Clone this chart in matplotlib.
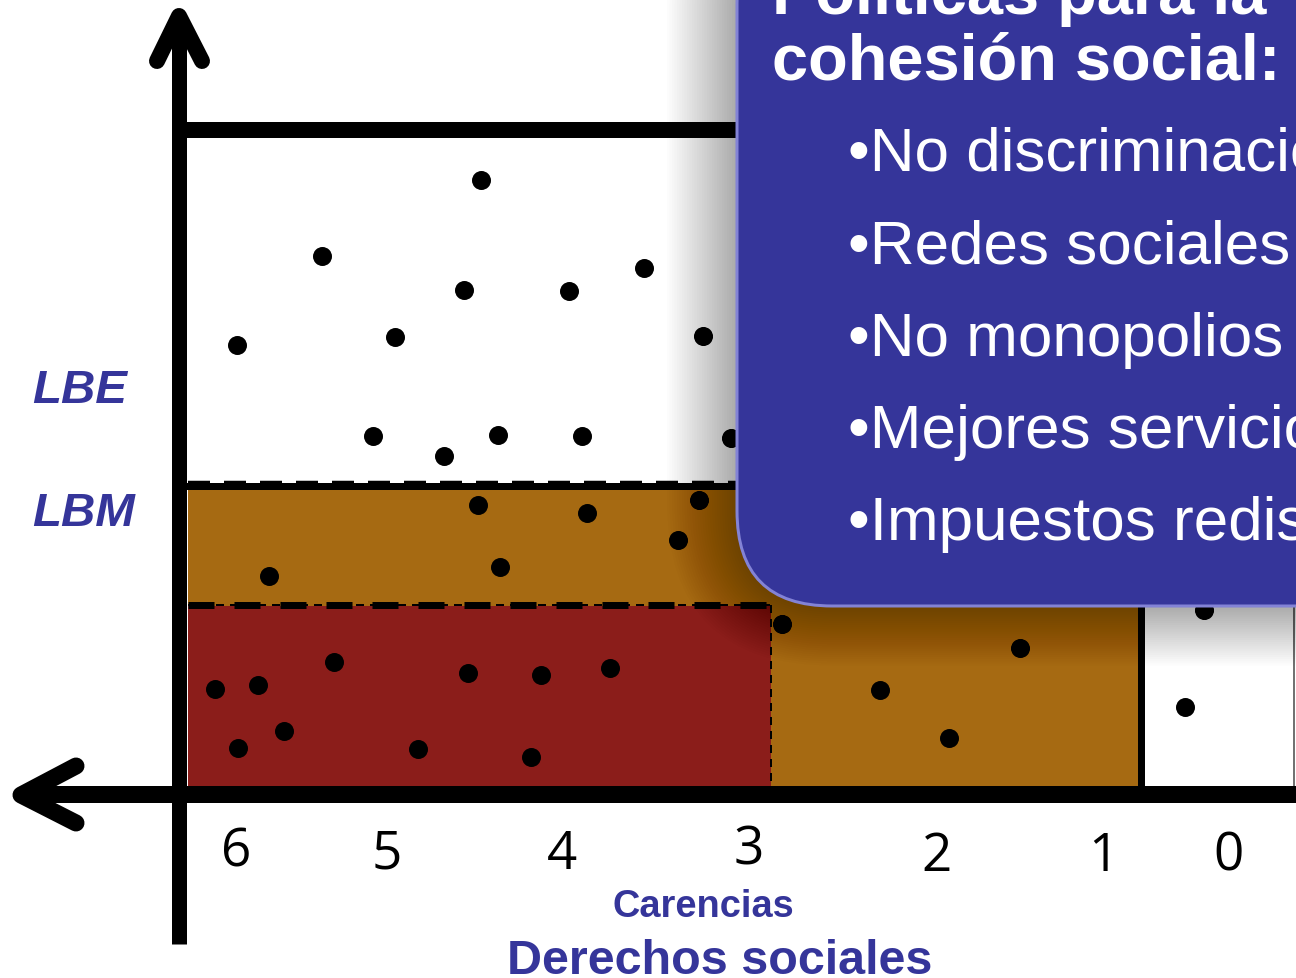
import matplotlib
matplotlib.use("Agg")
import matplotlib.pyplot as plt
from matplotlib.patches import Rectangle, FancyBboxPatch

# ---------------- data (diagram coordinates) ----------------
# x axis: number of "carencias" (deprivations), labels read left->right
carencias_labels = ["6", "5", "4", "3", "2", "1", "0"]
carencias_x = [236, 387, 562, 749, 937, 1103, 1229]
carencias_y = [849, 851, 851, 847, 853, 853, 853]

# dots (households) in the white region above LBE
white_x = [481, 322, 464, 569, 644, 237, 395, 703, 373, 444, 498, 582, 731]
white_y = [181, 257, 291, 292, 269, 346, 338, 337, 437, 457, 436, 437, 439]
# dots in the middle (orange) band between LBE and LBM
mid_x = [478, 587, 699, 678, 500, 269]
mid_y = [506, 514, 501, 541, 568, 577]
# dots in the red region (poverty)
red_x = [215, 258, 334, 468, 541, 610, 238, 284, 418, 531]
red_y = [690, 686, 663, 674, 676, 669, 749, 732, 750, 758]
# dots in the lower orange region
low_x = [782, 1020, 880, 949]
low_y = [625, 649, 691, 739]
# dots in the white lower-right region
right_x = [1185, 1204]
right_y = [708, 611]

level_labels = ["LBE", "LBM"]
box_title = ["Políticas para la", "cohesión social:"]
box_items = ["•No discriminación", "•Redes sociales", "•No monopolios",
             "•Mejores servicios", "•Impuestos redistributivos"]

# ---------------- styling ----------------
PX = 0.72  # points per pixel at dpi=100
ORANGE = "#A66A12"
RED = "#8B1D1A"
BLUE = "#35359A"
FONT = "Liberation Sans"

fig = plt.figure(figsize=(12.96, 9.79), dpi=100)
ax = fig.add_axes([0, 0, 1, 1])
ax.set_xlim(0, 1296)
ax.set_ylim(979, 0)
ax.axis("off")

# regions
ax.add_patch(Rectangle((188, 490), 1141 - 188, 787 - 490, facecolor=ORANGE,
                       edgecolor="none", zorder=1))
ax.add_patch(Rectangle((188, 607), 771 - 188, 787 - 607, facecolor=RED,
                       edgecolor="none", zorder=2))

# dots
for xs, ys in [(white_x, white_y), (mid_x, mid_y), (red_x, red_y),
               (low_x, low_y), (right_x, right_y)]:
    ax.scatter(xs, ys, s=(19 * PX) ** 2, color="black", linewidths=0, zorder=5)

# boundary lines
ax.plot([180, 900], [487, 487], color="black", lw=7 * PX, solid_capstyle="butt", zorder=6)
ax.plot([188, 900], [482.5, 482.5], color="black", lw=2.5 * PX,
        dashes=(22 / 2.5, 14 / 2.5), zorder=6)
ax.plot([188, 771], [606, 606], color="black", lw=7 * PX,
        dashes=(26 / 7, 20 / 7), zorder=6)
ax.plot([188, 771], [606, 606], color="black", lw=2 * PX,
        dashes=(4, 3), zorder=6)
ax.plot([771, 771], [606, 787], color="black", lw=2 * PX, dashes=(4, 3), zorder=6)
ax.plot([1141, 1141], [598, 788], color="black", lw=7 * PX, solid_capstyle="butt", zorder=6)
ax.plot([1294, 1294], [598, 788], color="#444444", lw=1.5 * PX, zorder=6)
ax.plot([172, 900], [131, 131], color="black", lw=16 * PX, solid_capstyle="butt", zorder=6)

# axes with arrows
ax.plot([179, 179], [945, 18], color="black", lw=15 * PX, solid_capstyle="butt", zorder=7)
ax.plot([157, 179, 202], [62, 17, 62], color="black", lw=16 * PX,
        solid_capstyle="round", solid_joinstyle="round", zorder=7)
ax.plot([24, 1296], [795, 795], color="black", lw=17 * PX, solid_capstyle="butt", zorder=7)
ax.plot([76, 21, 76], [767, 796, 824], color="black", lw=17 * PX,
        solid_capstyle="round", solid_joinstyle="round", zorder=7)

# tick labels
for lab, x, y in zip(carencias_labels, carencias_x, carencias_y):
    ax.text(x, y + 18, lab, ha="center", va="baseline", fontsize=53 * PX,
            family=["Open Sans", "DejaVu Sans"], fontweight="normal",
            color="black", zorder=8)

# axis titles
ax.text(612, 917, "Carencias", ha="left", va="baseline", fontsize=38 * PX,
        family=FONT, fontweight="bold", color=BLUE, zorder=8)
ax.text(507, 974, "Derechos sociales", ha="left", va="baseline", fontsize=48.5 * PX,
        family=FONT, fontweight="bold", color=BLUE, zorder=8)

# level labels
ax.text(32, 403, level_labels[0], ha="left", va="baseline", fontsize=47.5 * PX,
        family=FONT, fontweight="bold", style="italic", color=BLUE, zorder=8)
ax.text(32, 526, level_labels[1], ha="left", va="baseline", fontsize=47.5 * PX,
        family=FONT, fontweight="bold", style="italic", color=BLUE, zorder=8)

# shadow of the text box
bx0, by0, bw, bh, r = 737, -90, 800, 607 + 90, 95
n_layers = 28
for i in range(1, n_layers + 1):
    d = i * 2.5
    ax.add_patch(FancyBboxPatch((bx0 - d, by0 - d), bw + 2 * d, bh + d + d * 0.85,
                                boxstyle=f"round,pad=0,rounding_size={r + d}",
                                facecolor="black", edgecolor="none", alpha=0.011,
                                zorder=9))
# text box
ax.add_patch(FancyBboxPatch((bx0, by0), bw, bh,
                            boxstyle=f"round,pad=0,rounding_size={r}",
                            facecolor=BLUE, edgecolor="#8383D6", lw=3 * PX, zorder=10))

ax.text(772, 14, box_title[0], ha="left", va="baseline", fontsize=65 * PX,
        family=FONT, fontweight="bold", color="white", zorder=11)
ax.text(772, 80, box_title[1], ha="left", va="baseline", fontsize=65 * PX,
        family=FONT, fontweight="bold", color="white", zorder=11)
for k, item in enumerate(box_items):
    ax.text(848, 172 + 92 * k, item, ha="left", va="baseline", fontsize=62 * PX,
            family=FONT, color="white", zorder=11)

fig.savefig("out.png", dpi=100)
